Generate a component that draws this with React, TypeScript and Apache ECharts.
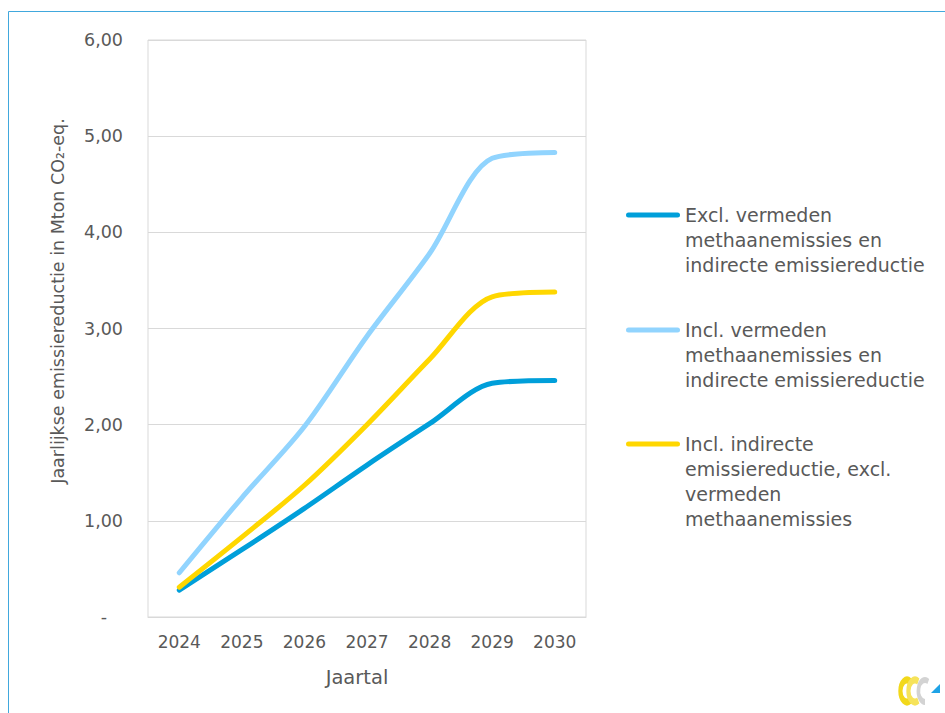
import React, { useEffect, useRef } from 'react';
import * as echarts from 'echarts';

const years = ['2024', '2025', '2026', '2027', '2028', '2029', '2030'];
const exclValues = [0.28, 0.7, 1.13, 1.58, 2.01, 2.43, 2.46];
const inclAllValues = [0.46, 1.24, 1.98, 2.92, 3.78, 4.77, 4.83];
const inclIndirectValues = [0.31, 0.83, 1.37, 2.0, 2.68, 3.33, 3.38];

const seriesNames = [
  'Excl. vermeden methaanemissies en indirecte emissiereductie',
  'Incl. vermeden methaanemissies en indirecte emissiereductie',
  'Incl. indirecte emissiereductie, excl. vermeden methaanemissies',
];
const legendLines = [
  ['Excl. vermeden', 'methaanemissies en', 'indirecte emissiereductie'],
  ['Incl. vermeden', 'methaanemissies en', 'indirecte emissiereductie'],
  ['Incl. indirecte', 'emissiereductie, excl.', 'vermeden', 'methaanemissies'],
];
const yTitle = 'Jaarlijkse emissiereductie in Mton CO\u2082-eq.';
const xTitle = 'Jaartal';

const colors = ['#009FDA', '#91D4FE', '#FFD700'];
const FONT = "'DejaVu Sans', sans-serif";
const TEXT = '#595959';
const GRID = '#D9D9D9';

export default function App() {
  const ref = useRef<HTMLDivElement>(null);
  useEffect(() => {
    if (!ref.current) return;
    const chart = echarts.init(ref.current, undefined, { renderer: 'svg' });
    const lh = 25;
    const iconY = [215, 330, 444];
    const iconPath = 'path://M2.5,0 H51.5 A2.5,2.5 0 0 1 51.5,5 H2.5 A2.5,2.5 0 0 1 2.5,0 Z';
    const legends = legendLines.map((lines, i) => {
      const n = lines.length;
      const H = (2 * n - 1) * lh;
      const text = new Array(n - 1).fill(' ').join('\n') + '\n' + lines.join('\n');
      return {
        data: [{ name: seriesNames[i] }],
        orient: 'vertical',
        left: 626,
        top: iconY[i] - H / 2,
        padding: 0,
        icon: iconPath,
        itemWidth: 54,
        itemHeight: 5,
        selectedMode: false,
        formatter: () => text,
        textStyle: {
          fontSize: 19,
          lineHeight: lh,
          color: TEXT,
          fontFamily: FONT,
        },
      };
    });
    const data = [exclValues, inclAllValues, inclIndirectValues];
    chart.setOption({
      animation: false,
      textStyle: { fontFamily: FONT },
      grid: {
        left: 148,
        right: 359,
        top: 40,
        bottom: 96,
        show: true,
        borderColor: GRID,
        borderWidth: 1,
        backgroundColor: 'transparent',
      },
      legend: legends,
      xAxis: {
        type: 'category',
        data: years,
        boundaryGap: true,
        axisLine: { show: true, lineStyle: { color: GRID } },
        axisTick: { show: false },
        axisLabel: { color: TEXT, fontSize: 17, fontFamily: FONT, margin: 16 },
      },
      yAxis: {
        type: 'value',
        min: 0,
        max: 6,
        interval: 1,
        axisLine: { show: false },
        axisTick: { show: false },
        splitLine: { lineStyle: { color: GRID, width: 1 } },
        axisLabel: {
          color: TEXT,
          fontSize: 17.5,
          fontFamily: FONT,
          margin: 25,
          formatter: (v: number) => (v === 0 ? '{d|-}' : v.toFixed(2).replace('.', ',')),
          rich: { d: { color: TEXT, fontSize: 17.5, fontFamily: FONT, padding: [0, 16, 0, 0] } },
        },
      },
      series: data.map((vals, i) => ({
        name: seriesNames[i],
        type: 'line',
        data: vals,
        smooth: 0.3,
        symbol: 'none',
        showSymbol: false,
        lineStyle: { color: colors[i], width: 5, cap: 'round', join: 'round' },
        itemStyle: { color: colors[i] },
        emphasis: { disabled: true },
      })),
      graphic: [
        {
          type: 'rect',
          silent: true,
          shape: { x: 8.5, y: 11.5, width: 960, height: 720 },
          style: { fill: 'none', stroke: '#41A8DD', lineWidth: 1 },
        },
        {
          type: 'text',
          x: 58,
          y: 301,
          rotation: Math.PI / 2,
          style: {
            text: yTitle,
            fill: TEXT,
            fontSize: 17.5,
            fontFamily: FONT,
            align: 'center',
            verticalAlign: 'middle',
          },
        },
        {
          type: 'text',
          x: 357,
          y: 677,
          style: {
            text: xTitle,
            fill: TEXT,
            fontSize: 19.5,
            fontFamily: FONT,
            align: 'center',
            verticalAlign: 'middle',
          },
        },
        {
          type: 'arc',
          x: 907,
          y: 691,
          scaleX: 0.6,
          shape: { cx: 0, cy: 0, r: 11, startAngle: Math.PI / 3, endAngle: (5 * Math.PI) / 3 },
          style: { stroke: '#F2D81A', lineWidth: 7, fill: 'none' },
        },
        {
          type: 'arc',
          x: 915,
          y: 691,
          scaleX: 0.6,
          shape: { cx: 0, cy: 0, r: 11, startAngle: Math.PI / 3, endAngle: (5 * Math.PI) / 3 },
          style: { stroke: '#F6E35A', lineWidth: 7, fill: 'none' },
        },
        {
          type: 'arc',
          x: 925,
          y: 691,
          scaleX: 0.6,
          shape: { cx: 0, cy: 0, r: 11, startAngle: Math.PI / 2, endAngle: (5 * Math.PI) / 3 },
          style: { stroke: '#D3D3D3', lineWidth: 6, fill: 'none' },
        },
        {
          type: 'polygon',
          shape: { points: [[931, 693], [940, 693], [940, 684]] },
          style: { fill: '#1FA3E6' },
        },
      ],
    });
    return () => chart.dispose();
  }, []);
  return (
    <div
      ref={ref}
      style={{ position: 'fixed', left: 0, top: 0, width: 945, height: 713, background: '#fff' }}
    />
  );
}
